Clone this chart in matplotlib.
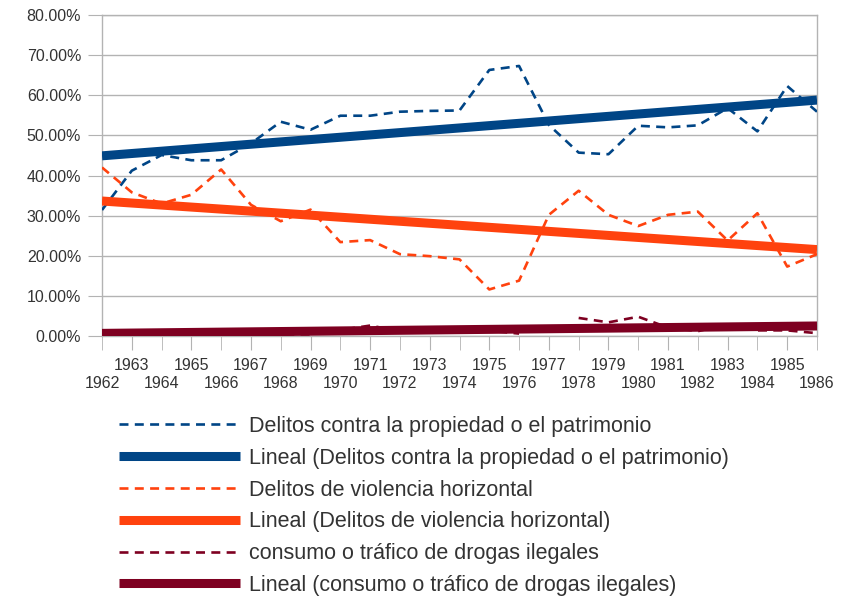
import numpy as np
import matplotlib
matplotlib.use("Agg")
import matplotlib.pyplot as plt
from matplotlib.ticker import FuncFormatter

years = list(range(1962, 1987))
propiedad = [31.4, 41.2, 45.1, 43.8, 43.8, 48.0, 53.4, 51.4, 54.9, 54.9, 55.9, 56.1, 56.2,
             66.3, 67.3, 52.6, 45.7, 45.3, 52.4, 52.0, 52.5, 56.8, 51.0, 62.3, 55.9]
violencia = [42.0, 35.8, 33.0, 35.2, 41.5, 32.7, 28.6, 31.5, 23.4, 23.9, 20.4, 19.9, 19.1,
             11.6, 13.8, 30.2, 36.2, 30.2, 27.4, 30.2, 31.0, 23.8, 30.6, 17.3, 20.4]
drogas = [0.6, 0.7, 0.8, 0.1, 0.9, 1.0, 0.4, 0.4, 1.5, 2.6, 1.2, 1.5, 1.6,
          1.3, 0.6, np.nan, 4.5, 3.4, 4.8, 2.1, 1.2, 2.9, 1.4, 1.4, 0.7]

names = ["Delitos contra la propiedad o el patrimonio",
         "Delitos de violencia horizontal",
         "consumo o tráfico de drogas ilegales"]
colors = ["#004586", "#ff420e", "#7e0021"]

plt.rcParams['font.family'] = ['Liberation Sans', 'DejaVu Sans']

W, H = 843, 598
fig = plt.figure(figsize=(W / 100, H / 100), dpi=100)
ax = fig.add_axes([102 / W, 1 - 336 / H, (817 - 102) / W, (336 - 15) / H])

x = np.array(years, dtype=float)
series = [propiedad, violencia, drogas]
handles = []
for name, vals, col in zip(names, series, colors):
    y = np.array(vals, dtype=float)
    (l1,) = ax.plot(x, y, color=col, lw=1.9, linestyle=(0, (3.4, 2.4)), zorder=3,
                    label=name)
    m = ~np.isnan(y)
    coef = np.polyfit(x[m], y[m], 1)
    (l2,) = ax.plot(x, np.polyval(coef, x), color=col, lw=6.5, zorder=4,
                    solid_capstyle='butt', label="Lineal (" + name + ")")
    handles += [l1, l2]

ax.set_xlim(1962, 1986)
ax.set_ylim(0, 80)
ax.set_yticks(np.arange(0, 81, 10))
ax.yaxis.set_major_formatter(FuncFormatter(lambda v, p: f"{v:.2f}%"))
ax.grid(axis='y', color='#b3b3b3', lw=1)
ax.set_axisbelow(True)

odd = [yv for yv in years if yv % 2 == 1]
even = [yv for yv in years if yv % 2 == 0]
ax.set_xticks(odd, [str(v) for v in odd])
ax.set_xticks(even, [str(v) for v in even], minor=True)
ax.tick_params(axis='x', which='major', length=10, pad=6, color='#b3b3b3',
               labelsize=11.5, labelcolor='#333333')
ax.tick_params(axis='x', which='minor', length=10, pad=19, color='#b3b3b3',
               labelsize=11.5, labelcolor='#333333')
ax.tick_params(axis='y', length=10, pad=5, color='#b3b3b3', labelsize=11.5,
               labelcolor='#333333')
for s in ax.spines.values():
    s.set_color('#b3b3b3')
    s.set_linewidth(1)

fig.legend(handles=handles, loc='upper left',
           bbox_to_anchor=(119 / W, 1 - 416 / H), frameon=False,
           borderpad=0, borderaxespad=0, fontsize=15.5, handlelength=5.6,
           handletextpad=0.42, labelspacing=0.5, labelcolor='#333333')

fig.savefig("out.png", dpi=100)
